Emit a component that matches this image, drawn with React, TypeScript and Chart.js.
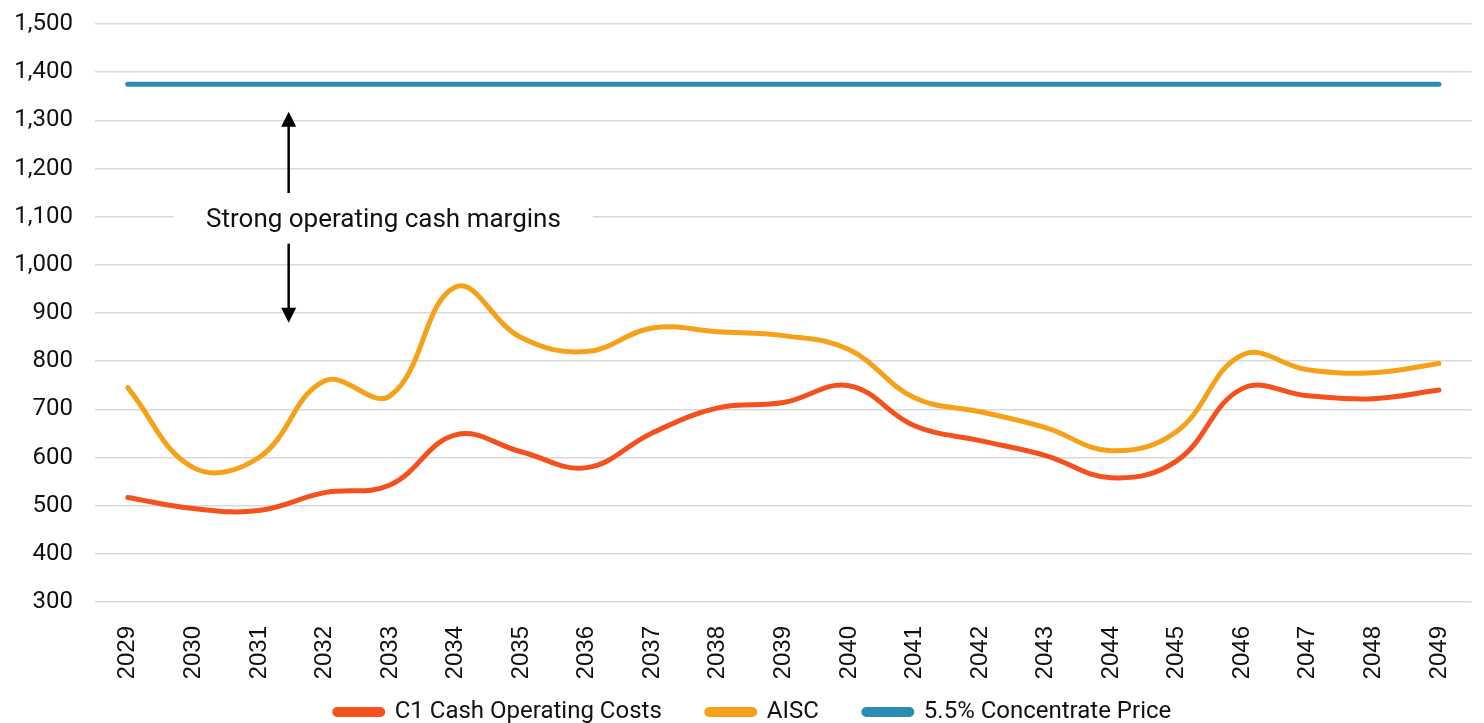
import React, { useEffect, useRef } from "react";
import { Chart, registerables } from "chart.js";

Chart.register(...registerables);

const years = ["2029","2030","2031","2032","2033","2034","2035","2036","2037","2038","2039","2040","2041","2042","2043","2044","2045","2046","2047","2048","2049"];
const c1Costs = [517, 494, 490, 527, 543, 647, 612, 579, 651, 703, 714, 749, 666, 635, 604, 558, 593, 743, 728, 722, 740];
const aisc = [745, 579, 600, 759, 728, 954, 849, 820, 869, 861, 853, 824, 724, 695, 662, 614, 654, 813, 782, 776, 795];
const concentratePrice = [1375, 1375, 1375, 1375, 1375, 1375, 1375, 1375, 1375, 1375, 1375, 1375, 1375, 1375, 1375, 1375, 1375, 1375, 1375, 1375, 1375];
const annotationText = "Strong operating cash margins";
const arrowUp = [1149, 1318];
const arrowDown = [1044, 880];
const annotationValue = 1093;

const LEGEND_HEIGHT = 45;
const LEGEND_SHIFT = 23;
const LEGEND_XSHIFT = 17;

const legendSizePlugin = {
  id: "legendSize",
  beforeUpdate(chart: any) {
    const lg = chart.legend;
    if (lg && !lg._sizePatched) {
      const orig = lg.fit.bind(lg);
      lg.fit = function () {
        orig();
        this.height = LEGEND_HEIGHT;
      };
      lg._sizePatched = true;
    }
  },
  afterLayout(chart: any) {
    const lg = chart.legend;
    if (lg) {
      lg.top -= LEGEND_SHIFT;
      lg.left += LEGEND_XSHIFT;
      lg.right += LEGEND_XSHIFT;
    }
  },
};

const annotationPlugin = {
  id: "cashMarginAnnotation",
  afterDatasetsDraw(chart: any) {
    const { ctx } = chart;
    const x = chart.scales.x;
    const y = chart.scales.y;
    const ax = (x.getPixelForValue(2) + x.getPixelForValue(3)) / 2 - 3;
    const tx = x.getPixelForValue(3.9);
    const ty = y.getPixelForValue(annotationValue);
    ctx.save();
    ctx.font = "26px Roboto";
    const w = ctx.measureText(annotationText).width;
    ctx.fillStyle = "#ffffff";
    ctx.fillRect(tx - w / 2 - 32, ty - 24, w + 64, 44);
    ctx.fillStyle = "#111111";
    ctx.textAlign = "center";
    ctx.textBaseline = "middle";
    ctx.fillText(annotationText, tx, ty);
    const drawArrow = (from: number, to: number) => {
      const y0 = y.getPixelForValue(from);
      const y1 = y.getPixelForValue(to);
      const dir = y1 < y0 ? -1 : 1;
      ctx.strokeStyle = "#000";
      ctx.lineWidth = 2.5;
      ctx.beginPath();
      ctx.moveTo(ax, y0);
      ctx.lineTo(ax, y1 - dir * 12);
      ctx.stroke();
      ctx.fillStyle = "#000";
      ctx.beginPath();
      ctx.moveTo(ax, y1);
      ctx.lineTo(ax - 7.5, y1 - dir * 15);
      ctx.lineTo(ax + 7.5, y1 - dir * 15);
      ctx.closePath();
      ctx.fill();
    };
    drawArrow(arrowUp[0], arrowUp[1]);
    drawArrow(arrowDown[0], arrowDown[1]);
    ctx.restore();
  },
};

export default function App() {
  const ref = useRef<HTMLCanvasElement>(null);
  useEffect(() => {
    if (!ref.current) return;
    const chart = new Chart(ref.current, {
      type: "line",
      data: {
        labels: years,
        datasets: [
          { label: "C1 Cash Operating Costs", data: c1Costs, borderColor: "#f4511e", backgroundColor: "#f4511e", borderWidth: 5, tension: 0.4, pointRadius: 0, borderCapStyle: "round" },
          { label: "AISC", data: aisc, borderColor: "#f6a11a", backgroundColor: "#f6a11a", borderWidth: 5, tension: 0.4, pointRadius: 0, borderCapStyle: "round" },
          { label: "5.5% Concentrate Price", data: concentratePrice, borderColor: "#2a8bb3", backgroundColor: "#2a8bb3", borderWidth: 5, tension: 0, pointRadius: 0, borderCapStyle: "round" },
        ],
      },
      options: {
        animation: false,
        responsive: true,
        maintainAspectRatio: false,
        layout: { padding: { top: 0, right: 12, left: 0, bottom: 0 } },
        plugins: {
          tooltip: { enabled: false },
          legend: {
            position: "bottom",
            labels: {
              boxWidth: 48,
              boxHeight: 5,
              padding: 45,
              color: "#111",
              font: { family: "Roboto", size: 24 },
              useBorderRadius: true,
              borderRadius: 2.5,
            },
          },
        },
        scales: {
          x: {
            offset: true,
            grid: { display: false },
            border: { display: false },
            ticks: { maxRotation: 90, minRotation: 90, color: "#111", font: { family: "Liberation Sans", size: 24 }, padding: 16 },
            afterFit(s: any) { s.height = 76; },
          },
          y: {
            min: 300,
            max: 1500,
            grid: { color: "#d9d9d9", lineWidth: 1.5, drawTicks: false },
            border: { display: false },
            ticks: { stepSize: 100, padding: 22, color: "#111", font: { family: "Roboto", size: 24 }, callback: (v: any) => Number(v).toLocaleString("en-US") },
            afterFit(s: any) { s.width = 95; s.paddingTop = 24; s.paddingBottom = 12; },
          },
        },
      },
      plugins: [legendSizePlugin, annotationPlugin],
    });
    return () => chart.destroy();
  }, []);
  return (
    <div style={{ position: "fixed", left: 0, top: 0, width: 1484, height: 723, background: "#fff" }}>
      <canvas ref={ref} />
    </div>
  );
}
